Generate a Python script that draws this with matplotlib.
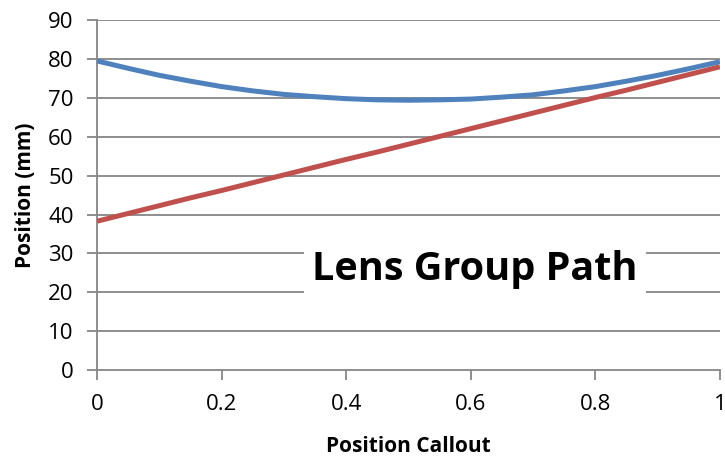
import numpy as np
import matplotlib.pyplot as plt

plt.rcParams['font.family'] = ['Open Sans', 'DejaVu Sans']

# data
callout = [0.0, 0.05, 0.1, 0.15, 0.2, 0.25, 0.3, 0.35, 0.4, 0.45, 0.5,
           0.55, 0.6, 0.65, 0.7, 0.75, 0.8, 0.85, 0.9, 0.95, 1.0]
group_a = [79.5, 77.6, 75.8, 74.3, 72.9, 71.8, 70.9, 70.3, 69.8, 69.5, 69.4,
           69.5, 69.7, 70.2, 70.8, 71.8, 72.9, 74.3, 75.8, 77.5, 79.3]
group_b = [38.3, 40.3, 42.3, 44.3, 46.2, 48.2, 50.2, 52.2, 54.2, 56.1, 58.1,
           60.1, 62.1, 64.1, 66.1, 68.1, 70.1, 72.0, 74.0, 76.0, 78.0]

xticks = [0, 0.2, 0.4, 0.6, 0.8, 1]
xticklabels = ['0', '0.2', '0.4', '0.6', '0.8', '1']
yticks = list(range(0, 91, 10))

grey = '#868686'

fig = plt.figure(figsize=(7.25, 4.57), dpi=100)
ax = fig.add_axes([0.134, 0.190, 0.859, 0.766])

for y in yticks[1:]:
    ax.axhline(y, color=grey, lw=1.3, zorder=1)

ax.plot(callout, group_a, color='#4F81BD', lw=3.6, solid_capstyle='butt', zorder=3)
ax.plot(callout, group_b, color='#C0504D', lw=3.6, solid_capstyle='butt', zorder=3)

ax.set_xlim(0, 1)
ax.set_ylim(0, 90)
ax.set_xticks(xticks)
ax.set_xticklabels(xticklabels)
ax.set_yticks(yticks)

for s in ['top', 'right']:
    ax.spines[s].set_visible(False)
for s in ['left', 'bottom']:
    ax.spines[s].set_color(grey)
    ax.spines[s].set_linewidth(1.3)
ax.tick_params(axis='both', direction='out', length=7, width=1.3, color=grey,
               labelsize=16, labelcolor='black')
ax.tick_params(axis='x', pad=10)
ax.tick_params(axis='y', pad=10)

ax.set_xlabel('Position Callout', fontsize=15, fontweight='bold', labelpad=15)
ax.set_ylabel('Position (mm)', fontsize=15, fontweight='bold', labelpad=9)

ax.text(0.607, 0.287, 'Lens Group Path', transform=ax.transAxes,
        fontsize=28.5, fontweight='bold', ha='center', va='center', zorder=4,
        bbox=dict(facecolor='white', edgecolor='none', pad=6))

fig.savefig('out.png', dpi=100)
